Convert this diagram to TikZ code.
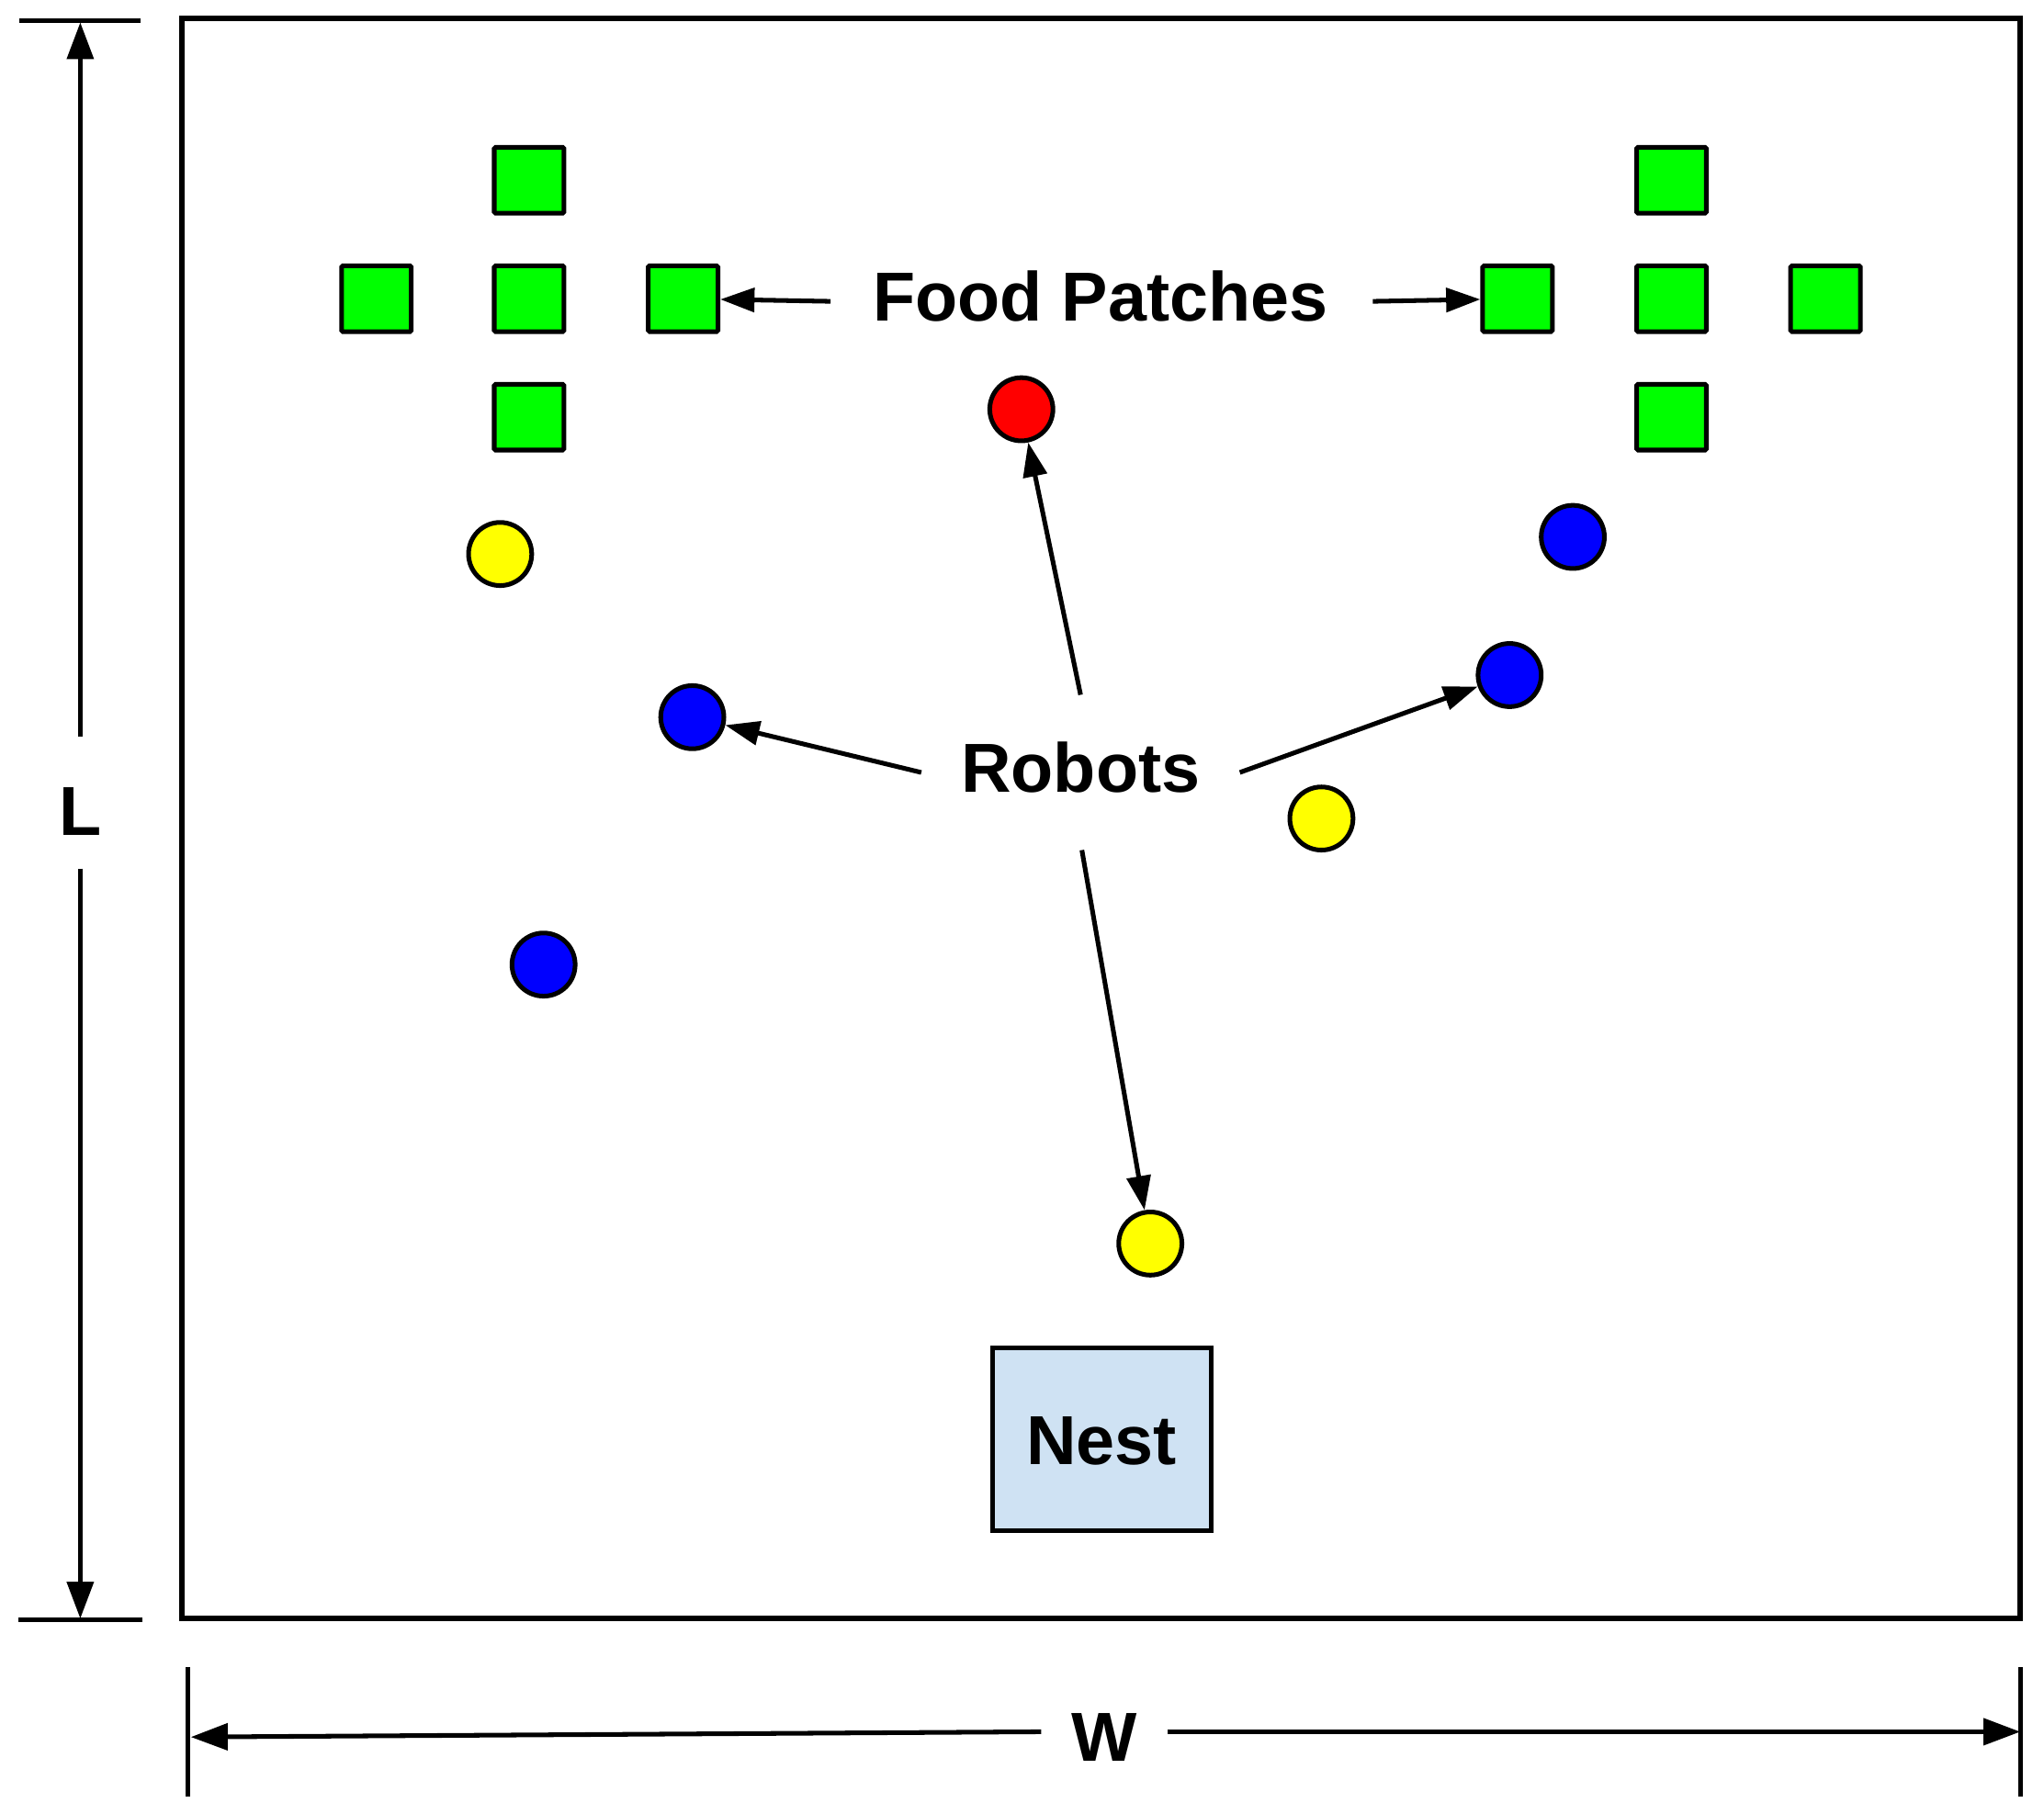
\documentclass[tikz,border=0pt]{standalone}
\usepackage{fontspec}
\setmainfont{Liberation Sans}
\usetikzlibrary{arrows.meta}
\definecolor{fgreen}{HTML}{00FF00}
\definecolor{rred}{HTML}{FF0000}
\definecolor{rblue}{HTML}{0000FF}
\definecolor{ryellow}{HTML}{FFFF00}
\definecolor{nestblue}{HTML}{CFE2F3}
\tikzset{
  food/.style={draw=black, line width=1.0pt, fill=fgreen, minimum width=5.3mm, minimum height=5.0mm, inner sep=0pt, rounded corners=0.3pt},
  robot/.style={draw=black, line width=1.0pt, circle, minimum size=4.8mm, inner sep=0pt},
  lbl/.style={font=\fontsize{15}{18}\selectfont\bfseries, inner sep=0pt},
  arr/.style={line width=1.0pt, -{Triangle[length=2.6mm,width=1.8mm]}},
  dimarr/.style={line width=1.0pt, -{Triangle[length=2.8mm,width=2.0mm]}},
  tick/.style={line width=1.0pt},
}
\begin{document}
\begin{tikzpicture}[x=0.1mm,y=-0.1mm]
\useasboundingbox (0,0) rectangle (1553,1370);
% arena
\node[draw=black, line width=1.15pt, minimum width=139.7mm, minimum height=121.6mm, inner sep=0pt] (arena) at (836.5,622) {};
% food patches left
\node[food] (l1) at (402,137) {};
\node[food] (l2) at (286,227) {};
\node[food] (l3) at (402,227) {};
\node[food] (l4) at (519,227) {};
\node[food] (l5) at (402,317) {};
% food patches right
\node[food] (r1) at (1270,137) {};
\node[food] (r2) at (1153,227) {};
\node[food] (r3) at (1270,227) {};
\node[food] (r4) at (1387,227) {};
\node[food] (r5) at (1270,317) {};
% robots
\node[robot, fill=rred] (red) at (776,311) {};
\node[robot, fill=ryellow] (y1) at (380,421) {};
\node[robot, fill=rblue] (b1) at (1195,408) {};
\node[robot, fill=rblue] (b2) at (526,545) {};
\node[robot, fill=rblue] (b3) at (1147,513) {};
\node[robot, fill=ryellow] (y2) at (1004,622) {};
\node[robot, fill=rblue] (b4) at (413,733) {};
\node[robot, fill=ryellow] (y3) at (874,945) {};
% nest
\node[draw=black, line width=1.0pt, fill=nestblue, minimum width=16.6mm, minimum height=13.9mm, inner sep=0pt] (nest) at (837,1093.5) {};
\node[lbl] (nesttxt) at (837,1095) {Nest};
% labels
\node[lbl] (foodtxt) at (836,225) {Food Patches};
\node[lbl] (robtxt) at (821,583) {Robots};
% arrow start points
\coordinate (fs1) at (631,229);
\coordinate (fs2) at (1043,229);
\coordinate (rs1) at (821,528);
\coordinate (rs2) at (700,587);
\coordinate (rs3) at (942,587);
\coordinate (rs4) at (822,646);
\draw[arr] (fs1) -- (l4);
\draw[arr] (fs2) -- (r2);
\draw[arr] (rs1) -- (red);
\draw[arr] (rs2) -- (b2);
\draw[arr] (rs3) -- (b3);
\draw[arr] (rs4) -- (y3);
% L dimension
\coordinate (lt1) at (15,16);
\coordinate (lt2) at (107,16);
\coordinate (lb1) at (14,1231);
\coordinate (lb2) at (108,1231);
\draw[tick] (lt1) -- (lt2);
\draw[tick] (lb1) -- (lb2);
\node[lbl] (Ltxt) at (61,617) {L};
\coordinate (la) at (61,560);
\coordinate (lat) at (61,17);
\coordinate (lb) at (61,660);
\coordinate (lbt) at (61,1230);
\draw[dimarr] (la) -- (lat);
\draw[dimarr] (lb) -- (lbt);
% W dimension
\coordinate (wt1) at (143,1267);
\coordinate (wt2) at (143,1365);
\coordinate (wt3) at (1535,1267);
\coordinate (wt4) at (1535,1365);
\draw[tick] (wt1) -- (wt2);
\draw[tick] (wt3) -- (wt4);
\node[lbl] (Wtxt) at (839,1320) {W};
\coordinate (wa) at (791,1316);
\coordinate (wat) at (145,1320);
\coordinate (wb) at (887,1316);
\coordinate (wbt) at (1535,1316);
\draw[dimarr] (wa) -- (wat);
\draw[dimarr] (wb) -- (wbt);
\end{tikzpicture}
\end{document}
